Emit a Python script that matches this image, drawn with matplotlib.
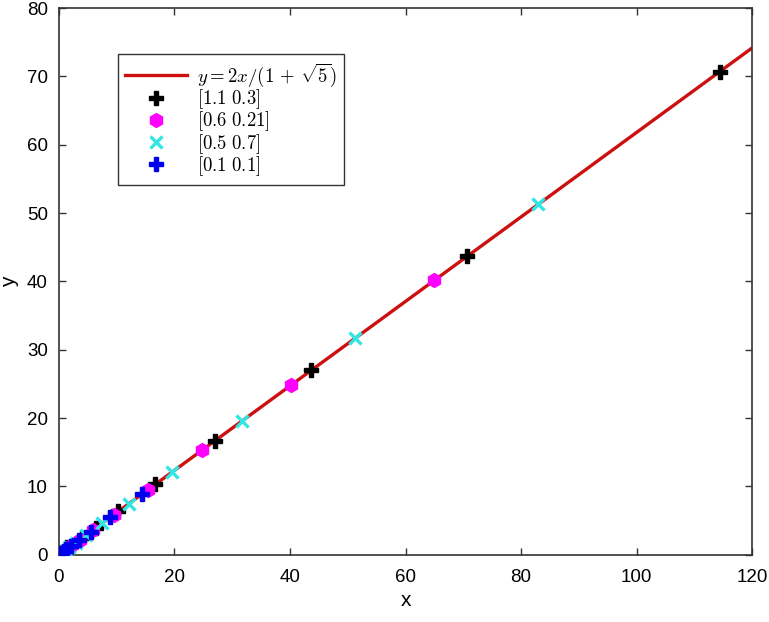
import numpy as np
import matplotlib
matplotlib.use("Agg")
import matplotlib.pyplot as plt

plt.rcParams['font.family'] = ['Liberation Sans', 'DejaVu Sans']
plt.rcParams['mathtext.fontset'] = 'cm'

# Line y = 2x/(1+sqrt(5))
line_x = [0, 120]
phi = (1 + np.sqrt(5)) / 2

# Series
black_x = [1.4, 2.5, 3.9, 6.4, 10.3, 16.7, 27.0, 43.7, 70.7, 114.4]
black_y = [1.1, 1.4, 2.5, 3.9, 6.4, 10.3, 16.7, 27.0, 43.7, 70.7]

magenta_x = [0.81, 1.41, 2.22, 3.63, 5.85, 9.48, 15.33, 24.81, 40.14, 64.95]
magenta_y = [0.6, 0.81, 1.41, 2.22, 3.63, 5.85, 9.48, 15.33, 24.81, 40.14]

cyan_x = [1.2, 1.7, 2.9, 4.6, 7.5, 12.1, 19.6, 31.7, 51.3, 83.0]
cyan_y = [0.5, 1.2, 1.7, 2.9, 4.6, 7.5, 12.1, 19.6, 31.7, 51.3]

blue_x = [0.2, 0.3, 0.5, 0.8, 1.3, 2.1, 3.4, 5.5, 8.9, 14.4]
blue_y = [0.1, 0.2, 0.3, 0.5, 0.8, 1.3, 2.1, 3.4, 5.5, 8.9]

labels = [r'$y = 2x/(1\,+\,\sqrt{5})$', r'$[1.1\ 0.3]$', r'$[0.6\ 0.21]$',
          r'$[0.5\ 0.7]$', r'$[0.1\ 0.1]$']
x_ticks = [0, 20, 40, 60, 80, 100, 120]
y_ticks = [0, 10, 20, 30, 40, 50, 60, 70, 80]

fig = plt.figure(figsize=(7.69, 6.22), dpi=100)
ax = fig.add_axes([0.0767, 0.108, 0.9013, 0.879])

lx = np.array(line_x, dtype=float)
ax.plot(lx, lx / phi, color='#cc1010', lw=2.4, label=labels[0], zorder=2)
ax.plot(black_x, black_y, linestyle='none', marker='P', color='black',
        markersize=10, label=labels[1], zorder=3)
ax.plot(magenta_x, magenta_y, linestyle='none', marker='h', color='#ff00ff',
        markersize=10, label=labels[2], zorder=3)
ax.plot(cyan_x, cyan_y, linestyle='none', marker='x', color='#33e6e6',
        markersize=8, mew=2.4, label=labels[3], zorder=3)
ax.plot(blue_x, blue_y, linestyle='none', marker='P', color='#0000ee',
        markersize=10, label=labels[4], zorder=4)

ax.set_xlim(0, 120)
ax.set_ylim(0, 80)
ax.set_xticks(x_ticks)
ax.set_yticks(y_ticks)
ax.tick_params(direction='in', top=True, right=True, labelsize=13.5,
               length=5, width=1, color='#333333')
ax.tick_params(axis='x', pad=10)
ax.tick_params(axis='y', pad=8)
for s in ax.spines.values():
    s.set_color('#333333')
    s.set_linewidth(1.2)
ax.set_xlabel('x', fontsize=15, labelpad=4)
ax.set_ylabel('y', fontsize=15, labelpad=6)

leg = ax.legend(loc='upper left', bbox_to_anchor=(0.085, 0.916), fontsize=13.5,
                frameon=True, fancybox=False, edgecolor='black',
                handlelength=3.3, borderpad=0.4, labelspacing=-0.08,
                handletextpad=0.5, borderaxespad=0)
leg.get_frame().set_linewidth(1.0)

fig.savefig('out.png', dpi=100)
